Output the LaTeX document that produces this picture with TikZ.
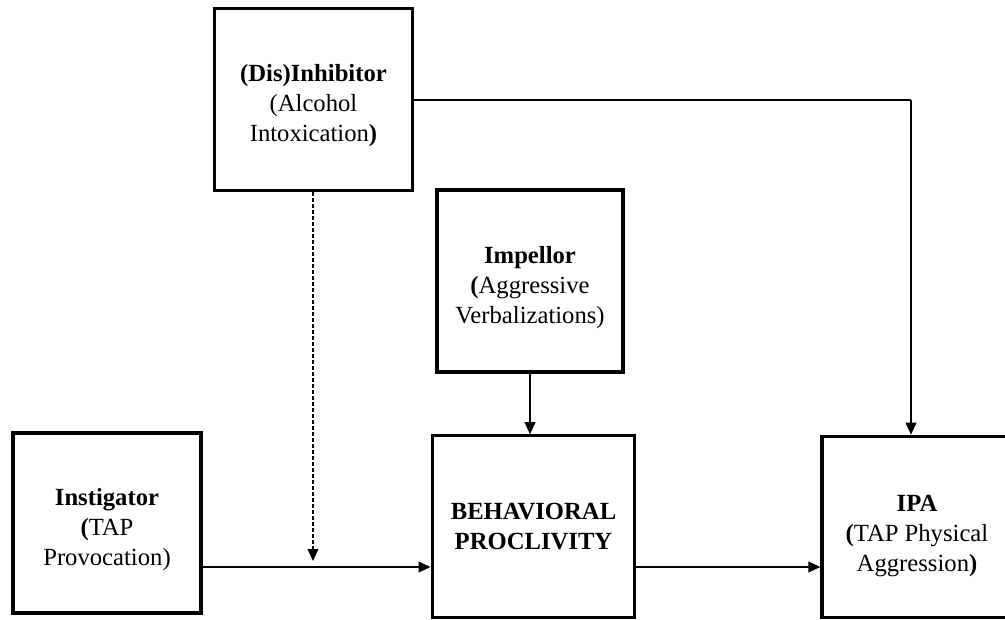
\documentclass[tikz,border=0pt]{standalone}
\usepackage{fontspec}
\setmainfont{Liberation Serif}
\usetikzlibrary{arrows.meta}

% first line pushed down a little
\newcommand{\lowfirst}[1]{\rule{0pt}{#1}}

\tikzset{
  box/.style={draw, line width=2.4pt, inner sep=0pt, align=center,
    font=\fontsize{18.5}{22.5}\selectfont},
  conn/.style={line width=1.3pt, -{Triangle[length=9pt,width=8pt]}},
}

\begin{document}
\begin{tikzpicture}[x=0.75pt, y=-0.75pt]
    \useasboundingbox (0,0) rectangle (1005,619);
    \node(dis)[box, minimum width=148.5pt, minimum height=136.5pt] at (313.5, 99.5) {\lowfirst{22pt}\textbf{(Dis)Inhibitor}\\(Alcohol\\Intoxication\textbf{)}};
    \node(imp)[box, minimum width=139.5pt, minimum height=136.5pt] at (530, 281) {\lowfirst{22pt}\textbf{Impellor}\\\textbf{(}Aggressive\\Verbalizations)};
    \node(ins)[box, minimum width=141pt, minimum height=135pt] at (107, 523) {\lowfirst{22pt}\textbf{Instigator}\\\textbf{(}TAP\\Provocation)};
    \node(beh)[box, minimum width=152pt, minimum height=136pt] at (533.5, 526.5) {\textbf{BEHAVIORAL}\\\textbf{PROCLIVITY}};
    \node(ipa)[box, minimum width=142.5pt, minimum height=136pt] at (917, 527) {\lowfirst{25pt}\textbf{IPA}\\\textbf{(}TAP Physical\\Aggression\textbf{)}};
    \coordinate(turn) at (911, 100);
    \coordinate(meet) at (313, 561);
    \draw[conn] (ins.east |- 0,567) -- (beh.west |- 0,567);
    \draw[conn] (beh.east |- 0,567) -- (ipa.west |- 0,567);
    \draw[conn] (imp.south) -- (imp.south |- beh.north);
    \draw[line width=1.3pt] (dis.east |- turn) -- (turn);
    \draw[conn] (turn) -- (turn |- ipa.north);
    \draw[conn, dash pattern=on 3pt off 1.5pt] (dis.south -| meet) -- (meet);
\end{tikzpicture}
\end{document}
